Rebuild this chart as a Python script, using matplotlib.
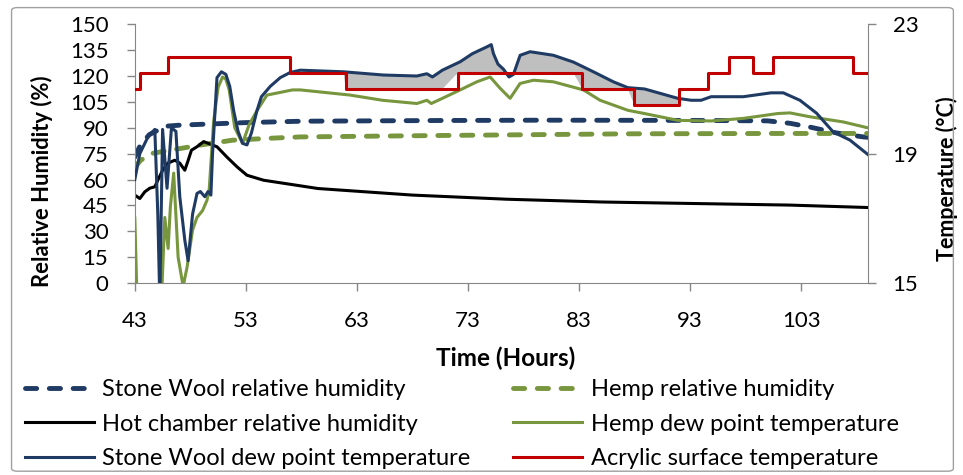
import numpy as np
import matplotlib
matplotlib.use("Agg")
import matplotlib.pyplot as plt
from matplotlib.patches import FancyBboxPatch

plt.rcParams['font.family'] = ['Lato', 'DejaVu Sans']

# time axis (hours) for each series
sw_rh_t = [43.0, 43.5, 44.3, 45.2, 46.0, 47.0, 49.0, 53.0, 58.0, 70.0, 80.0, 90.0, 95.0, 100.0,
           102.0, 103.8, 106.2, 108.6, 109.0]
sw_rh = [73, 80, 86, 89, 91, 91.5, 92, 93, 93.8, 94.2, 94.4, 94.3, 94.2, 94.0,
         92.6, 90.4, 87.0, 84.7, 84.5]

hemp_rh_t = [43.0, 43.5, 44.4, 46.2, 48.9, 51.8, 55.4, 57.9, 70.0, 87.6, 100.0, 109.0]
hemp_rh = [67, 71, 75, 77, 80, 82.8, 84, 84.7, 85.5, 86.5, 86.7, 86.7]

hot_rh_t = [43.0, 43.45, 43.9, 44.35, 44.8, 45.07, 45.5, 45.97, 46.6, 47.05, 47.5, 47.8, 48.1,
            48.6, 49.2, 50.4, 51.3, 52.2, 53.1, 54.6, 59.5, 68.0, 76.5, 85.0, 93.5, 102.0, 109.0]
hot_rh = [51, 49, 52.9, 55, 55.8, 59.6, 65.4, 69.5, 71.2, 69.5, 65.4, 71, 77,
          79, 82, 79, 73, 67.4, 62.5, 59.6, 54.8, 51, 48.6, 47, 46.1, 45.2, 43.8]

hemp_dew_t = [43.0, 43.2, 45.4, 45.7, 46.0, 46.2, 46.5, 46.9, 47.35, 47.7, 48.2, 48.6, 49.1,
              49.5, 49.7, 50.1, 50.5, 50.9, 51.2, 51.5, 52.0, 52.7, 53.3, 54.0, 54.9, 57.2,
              57.9, 62.4, 65.3, 68.4, 69.3, 69.7, 70.7, 72.3, 73.8, 75.0, 75.9, 76.8, 77.7,
              78.9, 80.7, 83.4, 84.9, 87.4, 88.9, 91.9, 94.9, 97.8, 100.9, 102.0, 103.8,
              106.8, 109.0]
hemp_dew = [17.01, 14.5, 14.5, 17.03, 16.07, 17.35, 18.4, 15.8, 14.9, 15.48, 16.64, 17.03, 17.24,
            17.56, 17.9, 20.0, 21.05, 21.37, 21.3, 20.97, 19.8, 19.32, 19.9, 20.33, 20.81, 20.97,
            20.97, 20.81, 20.65, 20.55, 20.65, 20.55, 20.71, 20.97, 21.22, 21.37, 21.02, 20.71, 21.17,
            21.27, 21.22, 20.97, 20.65, 20.34, 20.24, 20.03, 20.01, 20.09, 20.24, 20.26, 20.14,
            19.98, 19.8]

sw_dew_t = [43.0, 43.45, 44.2, 44.8, 45.07, 45.25, 45.5, 45.9, 46.3, 46.7, 47.05, 47.5, 47.8,
            48.2, 48.6, 48.9, 49.3, 49.6, 49.85, 50.0, 50.4, 50.8, 51.2, 51.55, 51.9, 52.3,
            52.7, 53.1, 53.5, 54.0, 54.4, 55.2, 56.1, 57.0, 57.9, 61.8, 65.4, 68.4, 69.3,
            69.8, 70.7, 72.3, 73.4, 74.7, 75.1, 75.3, 75.7, 76.2, 76.7, 77.1, 77.7, 78.6,
            80.7, 82.5, 84.3, 86.1, 87.4, 88.9, 91.9, 93.1, 94.0, 94.9, 97.8, 100.3, 101.4,
            102.9, 104.4, 105.9, 107.4, 109.0]
sw_dew = [18.2, 19.0, 19.53, 19.75, 17.13, 14.47, 19.75, 17.93, 19.8, 19.69, 17.67, 16.33, 15.69,
          17.13, 17.77, 17.83, 17.67, 17.83, 17.72, 19.0, 21.35, 21.53, 21.45, 21.08, 20.33, 19.69,
          19.32, 19.27, 19.64, 20.33, 20.76, 21.08, 21.35, 21.51, 21.58, 21.53, 21.43, 21.4, 21.47,
          21.37, 21.58, 21.84, 22.09, 22.3, 22.37, 22.09, 21.77, 21.61, 21.37, 21.45, 22.04, 22.15,
          22.04, 21.83, 21.53, 21.22, 21.04, 21.0, 20.71, 20.65, 20.65, 20.76, 20.76, 20.88, 20.88,
          20.65, 20.25, 19.67, 19.42, 18.98]

# acrylic surface temperature is a step series: value holds until next time
acr_t = [43.0, 43.5, 46.0, 57.0, 62.0, 72.1, 83.3, 88.0, 92.0, 94.6, 96.5, 98.7, 100.5, 107.7, 109.0]
acr = [21.0, 21.5, 22.0, 21.5, 21.0, 21.5, 21.0, 20.5, 21.0, 21.5, 22.0, 21.5, 22.0, 21.5, 21.5]

x_ticks = [43, 53, 63, 73, 83, 93, 103]

navy = '#1F3B63'
green = '#77963D'
red = '#C00000'
grey = '#868686'

fig = plt.figure(figsize=(9.63, 4.75), dpi=100)
ax = fig.add_axes([0.140, 0.404, 0.761, 0.545])
ax2 = ax.twinx()

# chart border
fig.patches.append(FancyBboxPatch((0.012, 0.008), 0.978, 0.976, boxstyle="round,pad=0,rounding_size=0.006",
                                  transform=fig.transFigure, fill=False, edgecolor='#A0A0A0', lw=1.0))

# grey area where the stone wool dew point is above the acrylic surface
grid_t = np.union1d(np.array(sw_dew_t), np.array(acr_t))
idx = np.searchsorted(acr_t, grid_t, side='right') - 1
acr_on_grid = np.array(acr)[np.clip(idx, 0, len(acr) - 1)]
sw_on_grid = np.interp(grid_t, sw_dew_t, sw_dew)
ax2.fill_between(grid_t, acr_on_grid, sw_on_grid, where=sw_on_grid > acr_on_grid,
                 interpolate=True, color='#BFBFBF', lw=0, zorder=1)

l1, = ax.plot(sw_rh_t, sw_rh, color=navy, lw=3.5, dashes=(2.3, 2.6), dash_capstyle='round',
              label='Stone Wool relative humidity')
l2, = ax.plot(hemp_rh_t, hemp_rh, color=green, lw=3.5, dashes=(2.3, 2.6), dash_capstyle='round',
              label='Hemp relative humidity')
l3, = ax.plot(hot_rh_t, hot_rh, color='black', lw=2.2, label='Hot chamber relative humidity')

l4, = ax2.plot(hemp_dew_t, hemp_dew, color=green, lw=2.2, label='Hemp dew point temperature', zorder=3)
l5, = ax2.plot(sw_dew_t, sw_dew, color=navy, lw=2.2, label='Stone Wool dew point temperature', zorder=3)
l6, = ax2.plot(acr_t, acr, color=red, lw=2.2, drawstyle='steps-post',
               label='Acrylic surface temperature', zorder=4)

ax.set_xlim(43, 109)
ax.set_ylim(0, 150)
ax2.set_ylim(15, 23)
ax.set_xticks(x_ticks)
ax.set_yticks(np.arange(0, 151, 15))
ax2.set_yticks([15, 19, 23])

for a in (ax, ax2):
    a.spines['top'].set_visible(False)
    for s in ('left', 'right', 'bottom'):
        a.spines[s].set_color(grey)
    a.tick_params(colors=grey, labelcolor='black', labelsize=16, length=6, width=1)
ax.spines['right'].set_visible(False)
ax2.spines['left'].set_visible(False)
ax2.spines['bottom'].set_visible(False)
ax.tick_params(axis='x', pad=14)
ax.tick_params(axis='y', pad=13)
ax2.tick_params(axis='y', pad=12)

ax.set_ylabel('Relative Humidity (%)', fontsize=15.8, fontweight='bold', va='center')
ax.yaxis.set_label_coords(-0.127, 0.394)
ax2.set_ylabel('Temperature (°C)', fontsize=15.5, fontweight='bold', va='center')
ax2.yaxis.set_label_coords(1.108, 0.405)
ax.set_xlabel('Time (Hours)', fontsize=17.5, fontweight='bold', va='center')
ax.xaxis.set_label_coords(0.506, -0.29)

fig.legend(handles=[l1, l3, l5, l2, l4, l6], ncol=2, loc='upper left', bbox_to_anchor=(0.026, 0.2025),
           frameon=False, fontsize=17, handlelength=2.9, handletextpad=0.38, columnspacing=1.8,
           labelspacing=0.58, borderaxespad=0, borderpad=0)

fig.savefig('out.png', dpi=100)
